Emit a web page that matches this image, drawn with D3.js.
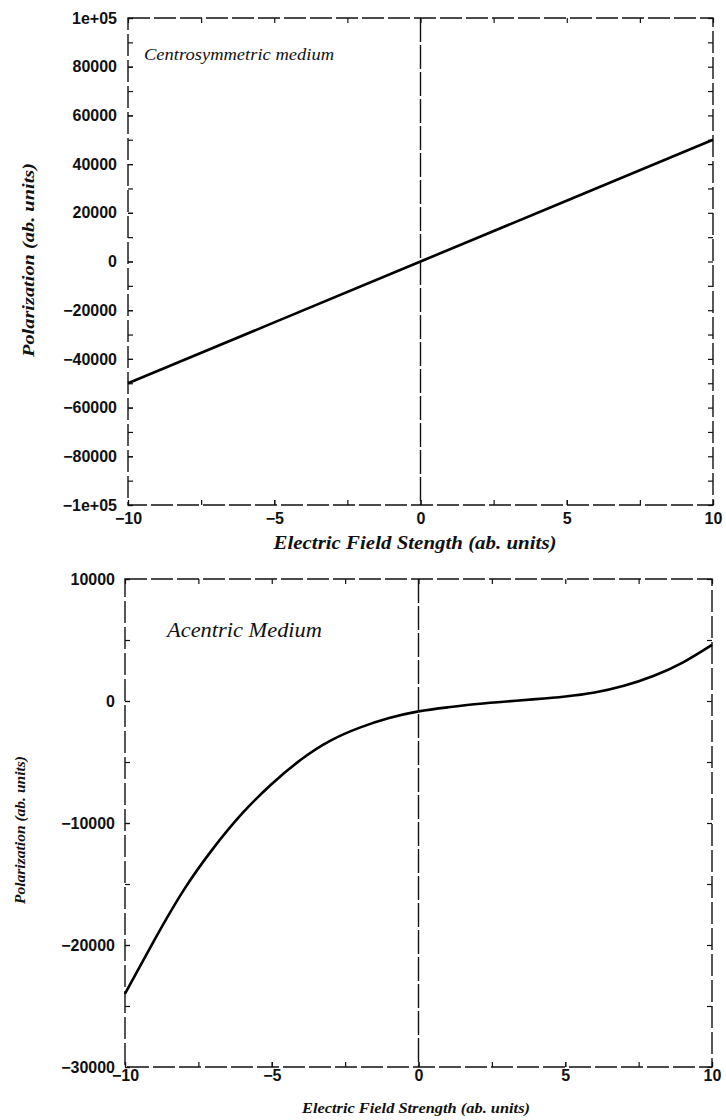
<!DOCTYPE html>
<html lang="en">
<head>
  <meta charset="UTF-8">
  <title>Polarization vs Electric Field</title>
  <style>
    body {
      margin: 0;
      padding: 0;
      background-color: #ffffff;
    }
    .tick line {
      stroke: #111;
      stroke-width: 1.2;
    }
    .tick text {
      font-family: "Liberation Sans", Arial, sans-serif;
      font-weight: bold;
      font-size: 16px;
      fill: #111;
    }
    .frame {
      fill: none;
      stroke: #111;
      stroke-width: 1.4;
      stroke-dasharray: 22, 4;
    }
    .serif {
      font-family: "Liberation Serif", "Times New Roman", serif;
      font-style: italic;
      fill: #111;
    }
  </style>
  <script src="https://d3js.org/d3.v7.min.js"></script>
</head>
<body>
  <script>
    // top panel: centrosymmetric medium (straight line)
    const fieldTop = [-10, 0, 10];
    const polTop = [-50000, 0, 50000];
    const yTicksTop = [-100000, -80000, -60000, -40000, -20000, 0, 20000, 40000, 60000, 80000, 100000];
    const yTickLabelsTop = ["\u22121e+05", "\u221280000", "\u221260000", "\u221240000", "\u221220000", "0", "20000", "40000", "60000", "80000", "1e+05"];
    const yMinorTop = d3.range(-100000, 100001, 10000);

    // bottom panel: acentric medium
    const fieldBottom = [-10, -9, -8, -7, -6, -5, -4, -3, -2, -1, 0, 1, 2, 3, 4, 5, 6, 7, 8, 9, 10];
    const polBottom = [-24000, -19600, -15500, -12100, -9200, -6800, -4800, -3250, -2180, -1400, -850, -520, -250, -40, 150, 370, 700, 1250, 2050, 3150, 4600];
    const yTicksBottom = [-30000, -20000, -10000, 0, 10000];
    const yTickLabelsBottom = ["\u221230000", "\u221220000", "\u221210000", "0", "10000"];
    const yMinorBottom = d3.range(-30000, 10001, 5000);

    // shared x axis
    const xTicks = [-10, -5, 0, 5, 10];
    const xTickLabels = ["\u221210", "\u22125", "0", "5", "10"];
    const xMinor = d3.range(-10, 10.01, 2.5);

    const svg = d3.select("body").append("svg")
      .attr("width", 726)
      .attr("height", 1120);

    const panels = [
      {
        left: 128, right: 713, top: 18, bottom: 505,
        yDomain: [-100000, 100000],
        yTicks: yTicksTop, yLabels: yTickLabelsTop, yMinor: yMinorTop,
        xs: fieldTop, ys: polTop,
        xPad: 8, yPad: 11,
        title: "Centrosymmetric medium", titleX: 144, titleY: 60, titleSize: 16, titleLen: 190,
        xLabel: "Electric Field Stength (ab. units)", xLabelX: 415, xLabelY: 549, xLabelSize: 19, xLabelLen: 283,
        yLabel: "Polarization (ab. units)", yLabelX: 34, yLabelY: 260, yLabelSize: 17, yLabelLen: 194
      },
      {
        left: 125, right: 712, top: 579, bottom: 1067,
        yDomain: [-30000, 10000],
        yTicks: yTicksBottom, yLabels: yTickLabelsBottom, yMinor: yMinorBottom,
        xs: fieldBottom, ys: polBottom,
        xPad: 3, yPad: 10,
        title: "Acentric Medium", titleX: 167, titleY: 637, titleSize: 21, titleLen: 155,
        xLabel: "Electric Field Strength (ab. units)", xLabelX: 416, xLabelY: 1113, xLabelSize: 14.5, xLabelLen: 228,
        yLabel: "Polarization (ab. units)", yLabelX: 25, yLabelY: 830, yLabelSize: 14, yLabelLen: 148
      }
    ];

    panels.forEach(p => {
      const x = d3.scaleLinear().domain([-10, 10]).range([p.left, p.right]);
      const y = d3.scaleLinear().domain(p.yDomain).range([p.bottom, p.top]);
      const g = svg.append("g");

      // frame (the scanned original shows broken, dash-like edges)
      g.append("rect")
        .attr("class", "frame")
        .attr("x", p.left)
        .attr("y", p.top)
        .attr("width", p.right - p.left)
        .attr("height", p.bottom - p.top);

      // inward ticks on all four sides
      g.append("g").attr("transform", `translate(${p.left},0)`)
        .call(d3.axisLeft(y).tickValues(p.yMinor).tickSize(-5).tickFormat(""));
      g.append("g").attr("transform", `translate(${p.right},0)`)
        .call(d3.axisRight(y).tickValues(p.yMinor).tickSize(-5).tickFormat(""));
      g.append("g").attr("transform", `translate(0,${p.top})`)
        .call(d3.axisTop(x).tickValues(xMinor).tickSize(-5).tickFormat(""));
      g.append("g").attr("transform", `translate(0,${p.bottom})`)
        .call(d3.axisBottom(x).tickValues(xMinor).tickSize(-5).tickFormat(""));

      // labelled axes
      g.append("g").attr("transform", `translate(${p.left},0)`)
        .call(d3.axisLeft(y).tickValues(p.yTicks).tickSize(-5).tickPadding(p.yPad)
          .tickFormat((d, i) => p.yLabels[i]));
      g.append("g").attr("transform", `translate(0,${p.bottom})`)
        .call(d3.axisBottom(x).tickValues(xTicks).tickSize(-5).tickPadding(p.xPad)
          .tickFormat((d, i) => xTickLabels[i]));

      g.selectAll(".domain").remove();

      // vertical line at zero field
      g.append("line")
        .attr("x1", x(0)).attr("x2", x(0))
        .attr("y1", p.top).attr("y2", p.bottom)
        .attr("stroke", "#111")
        .attr("stroke-width", 1.4)
        .attr("stroke-dasharray", "24,3");

      // curve
      const line = d3.line()
        .x((d, i) => x(p.xs[i]))
        .y(d => y(d))
        .curve(d3.curveNatural);

      g.append("path")
        .datum(p.ys)
        .attr("fill", "none")
        .attr("stroke", "#000")
        .attr("stroke-width", 2.6)
        .attr("d", line);

      // panel annotation
      g.append("text")
        .attr("class", "serif")
        .attr("x", p.titleX)
        .attr("y", p.titleY)
        .attr("font-size", p.titleSize)
        .attr("textLength", p.titleLen)
        .attr("lengthAdjust", "spacingAndGlyphs")
        .text(p.title);

      // axis titles
      g.append("text")
        .attr("class", "serif")
        .attr("x", p.xLabelX)
        .attr("y", p.xLabelY)
        .attr("text-anchor", "middle")
        .attr("font-size", p.xLabelSize)
        .attr("font-weight", "bold")
        .attr("textLength", p.xLabelLen)
        .attr("lengthAdjust", "spacingAndGlyphs")
        .text(p.xLabel);

      g.append("text")
        .attr("class", "serif")
        .attr("transform", `translate(${p.yLabelX},${p.yLabelY}) rotate(-90)`)
        .attr("text-anchor", "middle")
        .attr("font-size", p.yLabelSize)
        .attr("font-weight", "bold")
        .attr("textLength", p.yLabelLen)
        .attr("lengthAdjust", "spacingAndGlyphs")
        .text(p.yLabel);
    });
  </script>
</body>
</html>
